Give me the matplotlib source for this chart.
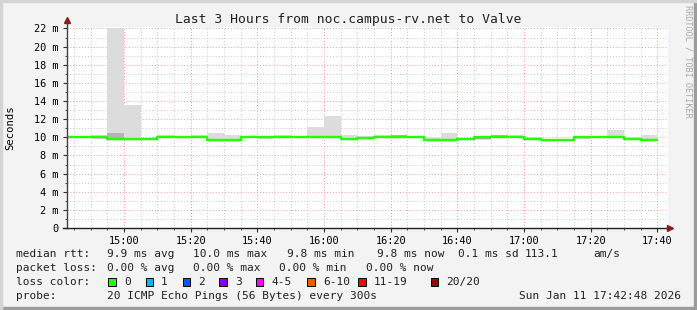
import numpy as np
import matplotlib
matplotlib.use("Agg")
import matplotlib.pyplot as plt
from matplotlib.patches import Rectangle
from matplotlib.lines import Line2D

W, H = 697, 310

# 5 minute bins, first bin starts 14:40 (minutes after 14:00)
first_bin = 40
bin_len = 5
median = [10.0, 10.0, 10.0, 9.8, 9.8, 9.8, 10.05, 10.0, 10.0, 9.75, 9.75, 10.0,
          10.0, 10.0, 10.0, 10.0, 10.0, 9.8, 9.95, 10.0, 10.0, 10.0, 9.75, 9.75,
          9.8, 10.0, 10.0, 10.0, 9.85, 9.75, 9.75, 10.0, 10.0, 10.0, 9.85, 9.75]
smoke_hi = [10.05, 10.1, 10.2, 22.0, 13.6, 9.95, 10.2, 10.1, 10.3, 10.5, 10.2, 10.1,
            10.05, 10.2, 10.15, 11.15, 12.4, 10.25, 10.1, 10.2, 10.25, 10.05, 10.0, 10.5,
            9.95, 10.05, 10.3, 10.2, 10.0, 9.85, 9.8, 10.05, 10.1, 10.75, 10.0, 10.25]
smoke_lo = [9.95, 9.95, 9.8, 9.75, 9.75, 9.7, 10.0, 9.95, 9.95, 9.7, 9.65, 9.95,
            9.8, 9.95, 9.95, 9.95, 9.95, 9.75, 9.9, 9.95, 9.95, 9.95, 9.7, 9.7,
            9.7, 9.7, 9.95, 9.95, 9.8, 9.7, 9.7, 9.8, 9.95, 9.95, 9.8, 9.7]
inner_hi = [10.02, 10.03, 10.05, 10.5, 9.9, 9.85, 10.1, 10.03, 10.05, 9.85, 9.8, 10.03,
            10.02, 10.05, 10.15, 10.05, 10.05, 9.85, 10.0, 10.05, 10.25, 10.02, 9.8, 9.85,
            9.85, 10.02, 10.3, 10.05, 9.9, 9.8, 9.78, 10.02, 10.03, 10.05, 9.9, 9.85]
inner_lo = [9.98, 9.97, 9.95, 9.78, 9.77, 9.75, 10.02, 9.97, 9.97, 9.72, 9.7, 9.97,
            9.95, 9.97, 9.97, 9.97, 9.97, 9.77, 9.92, 9.97, 9.97, 9.97, 9.72, 9.72,
            9.72, 9.8, 9.97, 9.97, 9.82, 9.72, 9.72, 9.9, 9.97, 9.97, 9.82, 9.72]

x_start, x_end = 42.8, 223.2   # 14:42:48 .. 17:43
y_max = 22.16

title = "Last 3 Hours from noc.campus-rv.net to Valve"
rtt_row = [("median rtt:", 16), ("9.9 ms avg", 107.3), ("10.0 ms max", 193.3),
           ("9.8 ms min", 286.7), ("9.8 ms now", 376.7), ("0.1 ms sd", 458.3),
           ("113.1", 525), ("am/s", 593)]
loss_row = [("packet loss:", 16), ("0.00 % avg", 107.3), ("0.00 % max", 193.3),
            ("0.00 % min", 279.3), ("0.00 % now", 366)]
loss_labels = ["0", "1", "2", "3", "4-5", "6-10", "11-19", "20/20"]
loss_colors = ["#26ff00", "#00b8ff", "#0059ff", "#7e00ff", "#ff00ff", "#ff5500", "#ff0000", "#a10000"]
swatch_x = [108.3, 145.7, 182.7, 219.3, 256, 307.3, 358.3, 430.7]
probe_text = "20 ICMP Echo Pings (56 Bytes) every 300s"
stamp = "Sun Jan 11 17:42:48 2026"

plt.rcParams['font.family'] = ['DejaVu Sans Mono']

fig = plt.figure(figsize=(W / 100, H / 100), dpi=100)
fig.patch.set_facecolor('#f3f3f3')

# frame shading
fig.patches.append(Rectangle((0, 0), 1, 3 / H, transform=fig.transFigure, color='#9c9c9c', zorder=0))
fig.patches.append(Rectangle((1 - 3 / W, 0), 3 / W, 1, transform=fig.transFigure, color='#9c9c9c', zorder=0))
fig.patches.append(Rectangle((0, 1 - 2 / H), 1, 2 / H, transform=fig.transFigure, color='#d4d4d4', zorder=0))
fig.patches.append(Rectangle((0, 0), 2 / W, 1, transform=fig.transFigure, color='#d4d4d4', zorder=0))

ax = fig.add_axes([66.7 / W, (H - 228) / H, 601.3 / W, 201 / H])
ax.set_facecolor('white')
for s in ax.spines.values():
    s.set_visible(False)

ax.set_xlim(x_start, x_end)
ax.set_ylim(0, y_max)

# grid
for m in np.arange(45, 225, 5):
    major = (m % 20 == 0)
    ax.axvline(m, color='#ff9090' if major else '#c8c8c8', lw=0.7, ls=(0, (1, 2)), zorder=1)
for v in np.arange(1, 23, 1):
    major = (v % 2 == 0)
    ax.axhline(v, color='#e6a0a0' if major else '#c8c8c8', lw=0.7, ls=(0, (1, 2)), zorder=1)

starts = first_bin + bin_len * np.arange(len(median))

# smoke
ax.bar(starts, np.array(smoke_hi) - np.array(smoke_lo), bottom=smoke_lo, width=bin_len,
       align='edge', color='#dcdcdc', lw=0, zorder=2)
ax.bar(starts, np.array(inner_hi) - np.array(inner_lo), bottom=inner_lo, width=bin_len,
       align='edge', color='#b4b4b4', lw=0, zorder=3)

# median
edges = np.append(starts, starts[-1] + bin_len)
vals = np.append(median, median[-1])
ax.step(edges, vals, where='post', color='#202020', lw=0.8, zorder=4)
ax.step(edges, vals, where='post', color=loss_colors[0], lw=1.7, zorder=5)

# ticks
ax.set_xticks(np.arange(60, 221, 20))
ax.set_xticklabels(["%d:%02d" % (14 + m // 60, m % 60) for m in range(60, 221, 20)])
ax.set_xticks(np.arange(45, 225, 5), minor=True)
ax.set_yticks(np.arange(0, 23, 2))
ax.set_yticklabels(["0"] + ["%d m" % v for v in range(2, 23, 2)])
ax.set_yticks(np.arange(1, 23, 1), minor=True)
ax.tick_params(axis='both', which='major', labelsize=7.4, length=3, width=0.8, color='#303030', pad=3)
ax.tick_params(axis='both', which='minor', length=1.5, width=0.6, color='#303030')

# axes with arrows
ax.add_line(Line2D([x_start, x_start], [0, y_max + 0.75], color='#404040', lw=1, clip_on=False, zorder=6))
ax.add_line(Line2D([x_start - 1.2, x_end + 0.6], [0, 0], color='#202020', lw=1, clip_on=False, zorder=6))
ax.plot([x_start], [y_max + 0.75], marker='^', ms=4.5, color='#8b1a1a', clip_on=False, zorder=7)
ax.plot([x_end + 0.6], [0], marker='>', ms=4.5, color='#8b1a1a', clip_on=False, zorder=7)

ax.set_ylabel("Seconds", fontsize=7.6)
ax.yaxis.set_label_coords(-(66.7 - 15) / 601.3, 0.5)

fig.text(0.5, 1 - 19 / H, title, ha='center', va='center', fontsize=9.4, color='#202020')
fig.text(688 / W, 1 - 5 / H, "RRDTOOL / TOBI OETIKER", rotation=270, ha='center', va='top',
         fontsize=6.1, color='#a8a8a8')


def put(txt, x, y, ha='left'):
    fig.text(x / W, 1 - y / H, txt, ha=ha, va='center', fontsize=8.0, color='#202020')


for txt, x in rtt_row:
    put(txt, x, 254)
for txt, x in loss_row:
    put(txt, x, 268)
put("loss color:", 16, 282)
for lab, col, sx in zip(loss_labels, loss_colors, swatch_x):
    fig.patches.append(Rectangle((sx / W, 1 - 285.7 / H), 7.4 / W, 7.4 / H, transform=fig.transFigure,
                                 facecolor=col, edgecolor='black', lw=0.7))
    put(lab, sx + 15.5, 282)
put("probe:", 16, 296)
put(probe_text, 107.3, 296)
put(stamp, 681, 296, ha='right')

fig.savefig("out.png", dpi=100, facecolor=fig.get_facecolor())
